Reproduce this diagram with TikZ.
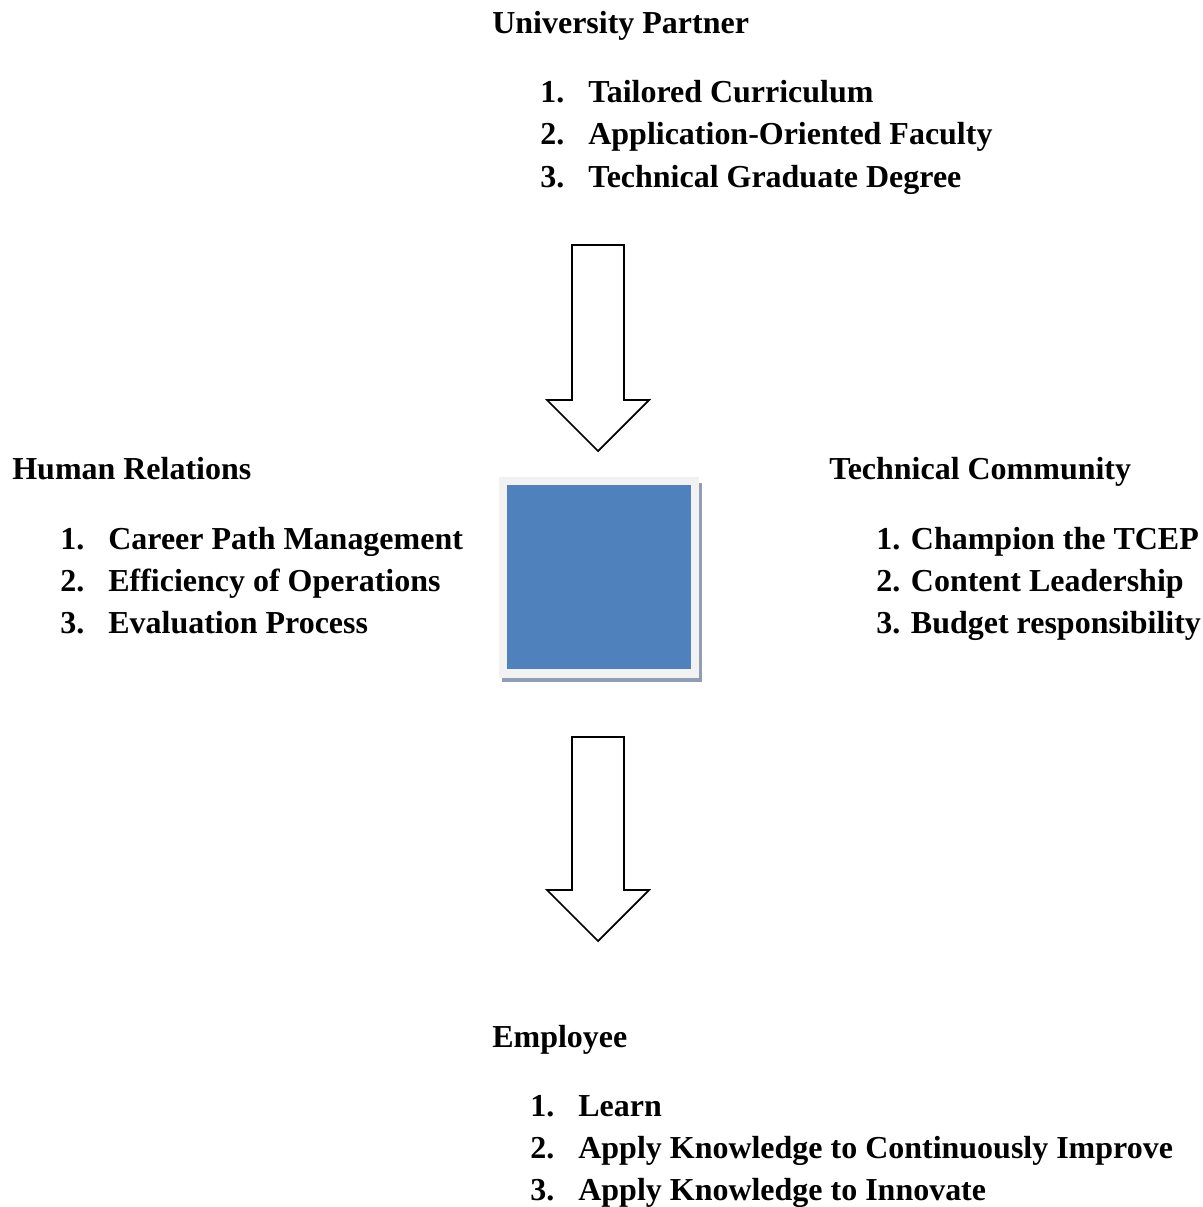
\documentclass[tikz,border=0pt]{standalone}
\usepackage{fontspec}
\setmainfont{Liberation Serif}
\usetikzlibrary{positioning}

\definecolor{boxblue}{HTML}{4F81BD}
\definecolor{boxframe}{HTML}{F2F2F2}
\definecolor{boxshadow}{HTML}{8F9DB5}

\tikzset{
  heading/.style={anchor=base west, inner sep=0pt, font=\fontsize{18.2}{22}\selectfont\bfseries},
  item/.style={anchor=base west, inner sep=0pt, font=\fontsize{18.2}{22}\selectfont\bfseries},
  blockarrow/.style={draw=black, line width=1pt, fill=white, line join=miter}
}

\begin{document}
\begin{tikzpicture}[x=0.02cm, y=-0.02cm]
    \useasboundingbox (0,0) rectangle (1203,1207);

    % University Partner
    \node[heading] (up) at (492,33) {University Partner};
    \foreach \i/\t in {1/Tailored Curriculum, 2/Application-Oriented Faculty, 3/Technical Graduate Degree} {
        \node[item] (upn\i) at (540, {102+42.5*(\i-1)}) {\i.};
        \node[item] (upt\i) at (588, {102+42.5*(\i-1)}) {\t};
    }

    % Arrow down to the centre
    \def\ax{598}
    \draw[blockarrow] (\ax-26,245) -- (\ax+26,245) -- (\ax+26,400) -- (\ax+51,400)
        -- (\ax,451) -- (\ax-51,400) -- (\ax-26,400) -- cycle;

    % Human Relations
    \node[heading] (hr) at (12,479) {Human Relations};
    \foreach \i/\t in {1/Career Path Management, 2/Efficiency of Operations, 3/Evaluation Process} {
        \node[item] (hrn\i) at (60, {549+42*(\i-1)}) {\i.};
        \node[item] (hrt\i) at (108, {549+42*(\i-1)}) {\t};
    }

    % Centre square (shadow, frame, fill)
    \fill[boxshadow] (502,483) rectangle (702,682);
    \fill[boxframe] (499,477) rectangle (699,678);
    \fill[boxblue] (507,485) rectangle (691,669);
    \coordinate (core) at (599,577);

    % Technical Community
    \node[heading] (tc) at (829,479) {Technical Community};
    \foreach \i/\t in {1/Champion the TCEP, 2/Content Leadership, 3/Budget responsibility} {
        \node[item] (tc\i) at (876, {549+42*(\i-1)}) {\i. \t};
    }

    % Arrow down to the employee
    \draw[blockarrow] (\ax-26,737) -- (\ax+26,737) -- (\ax+26,890) -- (\ax+51,890)
        -- (\ax,941) -- (\ax-51,890) -- (\ax-26,890) -- cycle;

    % Employee
    \node[heading] (emp) at (492,1047) {Employee};
    \foreach \i/\t in {1/Learn, 2/Apply Knowledge to Continuously Improve, 3/Apply Knowledge to Innovate} {
        \node[item] (empn\i) at (530, {1116+42*(\i-1)}) {\i.};
        \node[item] (empt\i) at (578, {1116+42*(\i-1)}) {\t};
    }
\end{tikzpicture}
\end{document}
